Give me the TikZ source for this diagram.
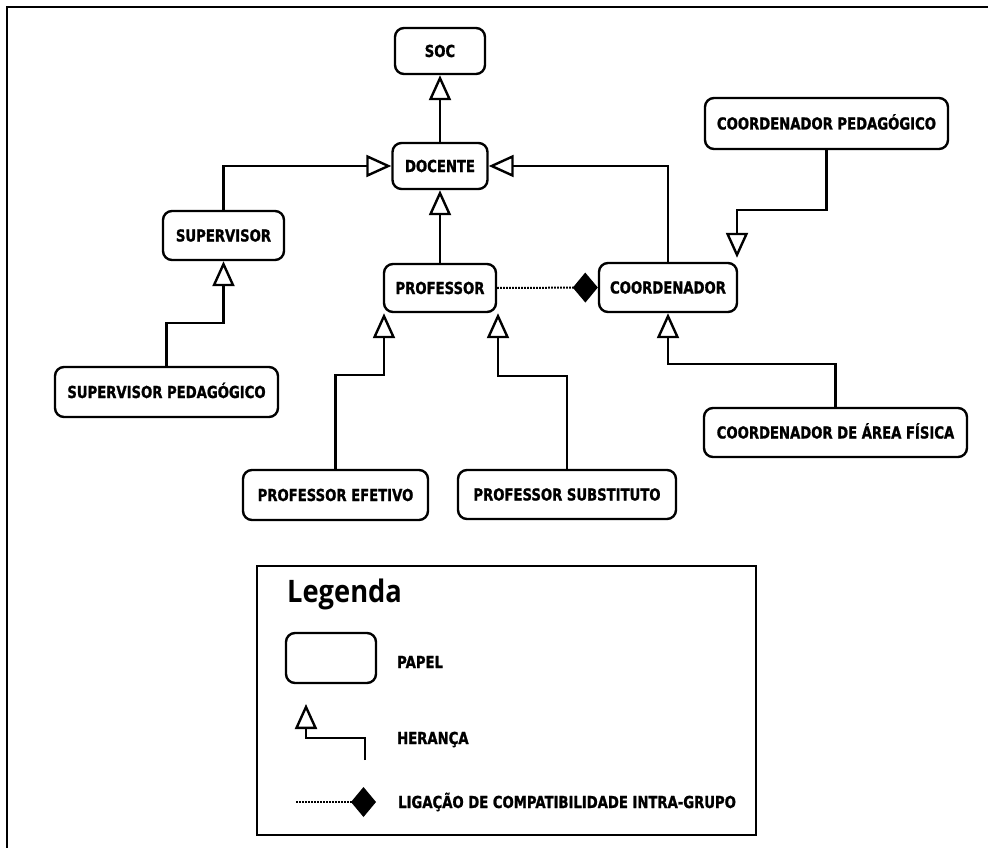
\documentclass[tikz,border=0pt]{standalone}
\usepackage{fontspec}
\usetikzlibrary{arrows.meta,calc}
\newfontfamily\lblfont{DejaVu Sans}[FakeStretch=0.8,FakeBold=1.2]
\newfontfamily\legfont{Open Sans}[FakeStretch=0.88]
\begin{document}
\begin{tikzpicture}[x=1pt,y=-1pt,line width=2.4pt,
  role/.style={draw,rounded corners=9pt,inner sep=0pt,line width=2.4pt,
    text height=12pt,text depth=0pt,
    font=\lblfont\bfseries\fontsize{16.5}{19}\selectfont},
  ltext/.style={anchor=west,inner sep=0pt,text height=12pt,text depth=0pt,
    font=\lblfont\bfseries\fontsize{16.5}{19}\selectfont},
  inh/.style={-{Triangle[open,length=25pt,width=22pt,fill=white]}},
  compat/.style={line width=2pt,dash pattern=on 1.6pt off 1.4pt,
    -{Diamond[length=25pt,width=30pt]}}]
\useasboundingbox (0,0) rectangle (988,848);
% outer frame
\draw (988,7) -- (7,7) -- (7,848);

% roles
\node[role,minimum width=90,minimum height=46] (SOC) at (440,51) {SOC};
\node[role,minimum width=95,minimum height=46] (DOC) at (440,166) {DOCENTE};
\node[role,minimum width=121,minimum height=49] (SUP) at (223.5,235.5) {SUPERVISOR};
\node[role,minimum width=223,minimum height=50] (SP) at (166.5,392) {SUPERVISOR PEDAGÓGICO};
\node[role,minimum width=112,minimum height=48] (PRO) at (440,288) {PROFESSOR};
\node[role,minimum width=138,minimum height=49] (COO) at (668,287.5) {COORDENADOR};
\node[role,minimum width=243,minimum height=51] (CP) at (826.5,123.5) {COORDENADOR PEDAGÓGICO};
\node[role,minimum width=185,minimum height=50] (PE) at (335.5,495) {PROFESSOR EFETIVO};
\node[role,minimum width=218,minimum height=49] (PS) at (567,494.5) {PROFESSOR SUBSTITUTO};
\node[role,minimum width=263,minimum height=49] (CAF) at (835.5,432.5) {COORDENADOR DE ÁREA FÍSICA};

% inheritance links
\draw[inh] (DOC.north) -- (SOC.south);
\draw[inh] (SUP.north) |- (DOC.west);
\draw[inh] (COO.north) |- (DOC.east);
\draw[inh] (PRO.north) -- (DOC.south);
\coordinate (spb) at (223.5,323);
\draw[inh] (SP.north) |- (spb) -- (SUP.south);
\coordinate (peb) at (384,375);
\draw[inh] (PE.north) |- (peb) -- (peb |- PRO.south);
\coordinate (psb) at (498,376);
\draw[inh] (PS.north) |- (psb) -- (psb |- PRO.south);
\coordinate (cafb) at (668,364);
\draw[inh] (CAF.north) |- (cafb) -- (COO.south);
\coordinate (cpb) at (737,210);
\draw[inh,shorten >=4pt] (CP.south) |- (cpb) -- (cpb |- COO.north);

% intra-group compatibility
\draw[compat] (PRO.east) -- (COO.west);

% legend
\node[draw,line width=2.4pt,minimum width=499,minimum height=269,inner sep=0pt] (LEG) at (506.5,700.5) {};
\node[anchor=west,inner sep=0pt,font=\legfont\bfseries\fontsize{31}{36}\selectfont] (LEGT) at (286,594) {Legenda};
\node[role,minimum width=90,minimum height=50] (LPAP) at (331,658) {};
\node[ltext] (TPAP) at (396,662) {PAPEL};
\coordinate (hs) at (365,760);
\coordinate (hb) at (306,738);
\coordinate (ht) at (306,704);
\draw[inh] (hs) |- (hb) -- (ht);
\node[ltext] (THER) at (396,738) {HERANÇA};
\coordinate (cs) at (296,802);
\coordinate (ce) at (376,802);
\draw[compat] (cs) -- (ce);
\node[ltext] (TLIG) at (397,802) {LIGAÇÃO DE COMPATIBILIDADE INTRA-GRUPO};
\end{tikzpicture}
\end{document}
